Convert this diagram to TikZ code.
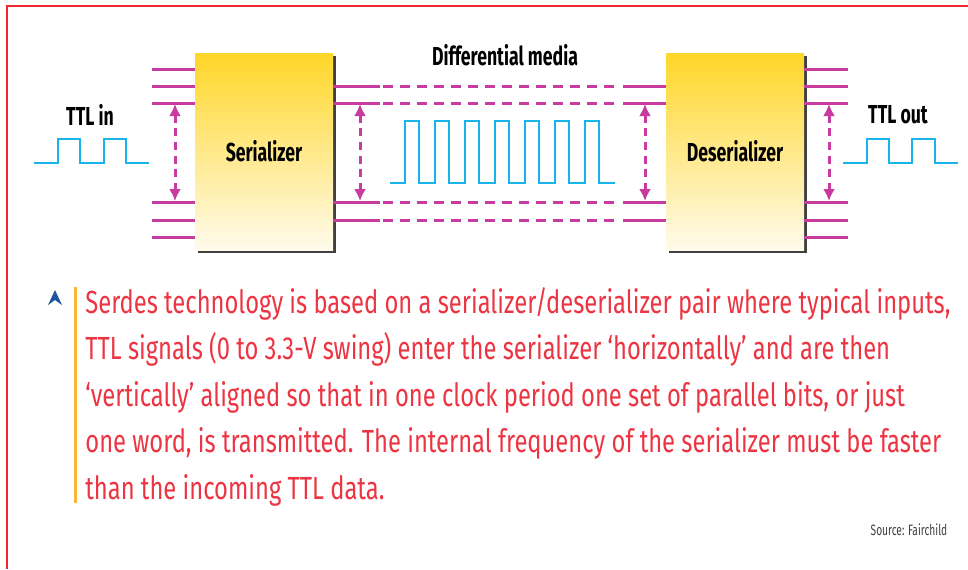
\documentclass[tikz,border=0pt]{standalone}
\usepackage{fontspec}
\usepackage{tikz}
\usetikzlibrary{arrows.meta, shadows, calc, positioning}
\newfontfamily\condfont[FakeStretch=0.68, Ligatures=TeX]{Fira Sans}
\newfontfamily\captfont[FakeStretch=0.742, Ligatures=TeX]{Fira Sans}
\definecolor{buspink}{RGB}{200,60,160}
\definecolor{sigblue}{RGB}{25,180,235}
\definecolor{boxtop}{RGB}{255,214,40}
\definecolor{boxbot}{RGB}{255,251,236}
\definecolor{capred}{RGB}{236,52,66}
\definecolor{barorange}{RGB}{250,182,52}
\definecolor{iconblue}{RGB}{28,86,160}
\definecolor{framered}{RGB}{240,40,45}

\begin{document}
\begin{tikzpicture}[x=0.5pt,y=-0.5pt,
  chip/.style={draw=none, top color=boxtop, bottom color=boxbot,
    minimum width=69pt, minimum height=98.5pt, inner sep=0pt,
    drop shadow={shadow xshift=1.6pt, shadow yshift=-1.6pt, fill=black!75, opacity=1},
    font=\condfont\bfseries\fontsize{13}{15}\selectfont},
  lbl/.style={font=\condfont\bfseries\fontsize{13}{15}\selectfont, inner sep=0pt},
  bus/.style={buspink, line width=1.5pt},
  busdash/.style={bus, dash pattern=on 5pt off 3.5pt},
  varrow/.style={buspink, line width=1.5pt, dash pattern=on 4pt off 2.8pt,
    {Latex[length=6pt,width=6pt]}-{Latex[length=6pt,width=6pt]}},
  sig/.style={sigblue, line width=1.4pt}]
\useasboundingbox (0,0) rectangle (968,569);
% frame
\draw[framered, line width=1pt] (7,569) -- (7,6) -- (968,6);

% the two chips
\node[chip] (ser) at (264,151.5) {Serializer};
\node[chip] (des) at (735,151.5) {Deserializer};

% parallel TTL lines
\foreach \y in {69,86,103,202,220,237} {
  \draw[bus] (ser.west |- 0,\y) -- ++(-43,0);
  \draw[bus] (des.east |- 0,\y) -- ++(44,0);
}
% differential pairs
\foreach \y in {86,103,202,220} {
  \draw[bus] (ser.east |- 0,\y) -- ++(47,0)
             (des.west |- 0,\y) -- ++(-43,0);
  \draw[busdash] ($(ser.east |- 0,\y)+(50,0)$) -- ($(des.west |- 0,\y)+(-46,0)$);
}
\foreach \x in {175,360,645,829}
  \draw[varrow] (\x,104) -- (\x,201);

% waveforms
\draw[sig] (34,163) -| (58,139) -| (80,163) -| (104,139) -| (126,163) -- (149,163);
\draw[sig] (390,183) \foreach \k in {0,...,6} {
    -| ({405+30*\k},121) -| ({419+30*\k},183) } -- (615,183);
\draw[sig] (843,163) -| (867,139) -| (889,163) -| (912,139) -| (935,163) -- (958,163);

\node[lbl] (ttlin) at (90,115) {TTL in};
\node[lbl] (ttlout) at (898,115) {TTL out};
\node[lbl] (media) at (505,55) {Differential media};

% caption
\fill[iconblue] (55,290) -- (62,305) -- (55,300) -- (48,305) -- cycle;
\draw[barorange, line width=1.5pt] (75,287) -- (75,503);
\node[anchor=base west, inner sep=0pt, align=left, text=capred,
  font=\captfont\fontsize{16}{23.25}\selectfont] (caption) at (85,499)
  {Serdes technology is based on a serializer/deserializer pair where typical inputs,\\
   TTL signals (0 to 3.3-V swing) enter the serializer ‘horizontally’ and are then\\
   ‘vertically’ aligned so that in one clock period one set of parallel bits, or just\\
   one word, is transmitted. The internal frequency of the serializer must be faster\\
   than the incoming TTL data.};
\node[inner sep=0pt, text=black!75, font=\condfont\fontsize{7.5}{8}\selectfont]
  (source) at (909,530) {Source: Fairchild};
\end{tikzpicture}
\end{document}
